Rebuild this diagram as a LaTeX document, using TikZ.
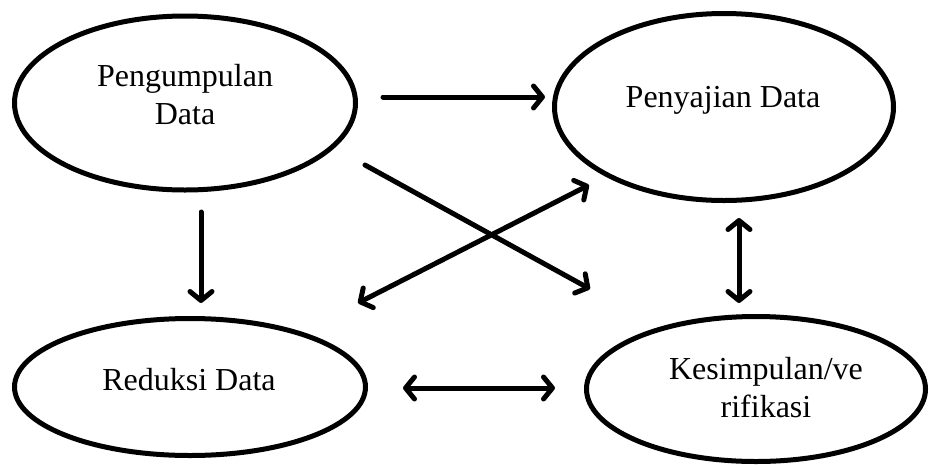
\documentclass[tikz,border=0pt]{standalone}
\usepackage{fontspec}
\setmainfont{Liberation Serif}
\usetikzlibrary{shapes.geometric,arrows.meta}
\begin{document}
\begin{tikzpicture}[x=1pt,y=-1pt,
  oval/.style={ellipse,draw,line width=5pt,inner sep=0pt},
  lbl/.style={align=center,font=\fontsize{32}{38}\selectfont,inner sep=0pt},
  tip/.style={Straight Barb[length=9pt,width=22pt,line cap=round,line join=round]},
  arr/.style={line width=5pt,-{Straight Barb[length=9pt,width=22pt,line cap=round,line join=round]},line cap=round},
  darr/.style={line width=5pt,{Straight Barb[length=9pt,width=22pt,line cap=round,line join=round]}-{Straight Barb[length=9pt,width=22pt,line cap=round,line join=round]},line cap=round}]
\useasboundingbox (0,0) rectangle (929,464);
\node[oval,minimum width=341pt,minimum height=174pt] (e1) at (185,103) {};
\node[oval,minimum width=339pt,minimum height=187pt] (e2) at (724,107) {};
\node[oval,minimum width=351pt,minimum height=137pt] (e3) at (190,387) {};
\node[oval,minimum width=339pt,minimum height=145pt] (e4) at (756,389) {};
\node[lbl] (t1) at (185,95) {Pengumpulan\\Data};
\node[lbl] (t2) at (723,100) {Penyajian Data};
\node[lbl] (t3) at (189,380) {Reduksi Data};
\node[lbl] (t4) at (766,388) {Kesimpulan/ve\\rifikasi};
\coordinate (a1s) at (383,97);  \coordinate (a1e) at (545,97);
\coordinate (a2s) at (201,212); \coordinate (a2e) at (201,303);
\coordinate (a3s) at (365,165); \coordinate (a3e) at (590,289);
\coordinate (a4s) at (358,303); \coordinate (a4e) at (589,185);
\coordinate (a5s) at (739,218); \coordinate (a5e) at (739,303);
\coordinate (a6s) at (403,388); \coordinate (a6e) at (555,388);
\draw[arr] (a1s) -- (a1e);
\draw[arr] (a2s) -- (a2e);
\draw[arr] (a3s) -- (a3e);
\draw[darr] (a4s) -- (a4e);
\draw[darr] (a5s) -- (a5e);
\draw[darr] (a6s) -- (a6e);
\end{tikzpicture}
\end{document}
